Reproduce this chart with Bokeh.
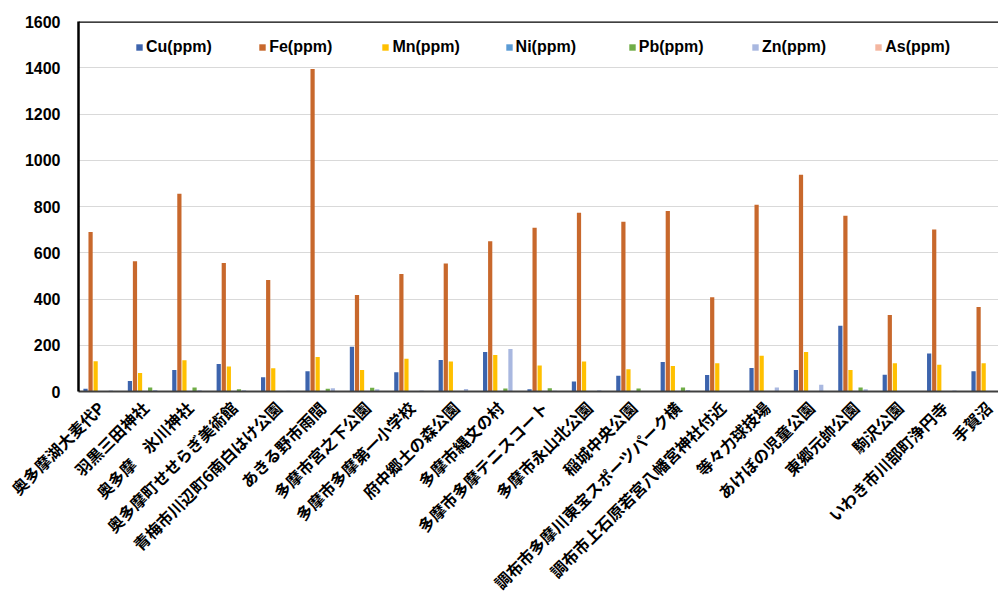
import math
from bokeh.plotting import figure
from bokeh.models import (Range1d, FixedTicker, Legend, LegendItem, Span,
                          ColumnDataSource)
from bokeh.embed import file_html
from bokeh.resources import INLINE

categories = ["奥多摩湖大麦代P", "羽黒三田神社", "奥多摩　氷川神社", "奥多摩町せせらぎ美術館",
              "青梅市川辺町6南白はけ公園", "あきる野市雨間", "多摩市宮之下公園", "多摩市多摩第一小学校",
              "府中郷土の森公園", "多摩市縄文の村", "多摩市多摩テニスコート", "多摩市永山北公園",
              "稲城中央公園", "調布市多摩川東宝スポーツパーク横", "調布市上石原若宮八幡宮神社付近",
              "等々力球技場", "あけぼの児童公園", "東郷元帥公園", "駒沢公園", "いわき市川部町浄円寺", "手賀沼"]

cu = [12, 45, 93, 119, 62, 88, 193, 83, 136, 171, 10, 43, 68, 128, 71, 102, 93, 284, 72, 164, 88]
fe = [690, 563, 855, 556, 482, 1395, 417, 508, 553, 650, 708, 773, 734, 781, 408, 808, 937, 760, 331, 701, 365]
mn = [131, 80, 135, 108, 101, 149, 93, 142, 130, 158, 112, 130, 96, 110, 122, 155, 171, 93, 122, 116, 122]
ni = [1, 1, 1, 1, 1, 1, 1, 1, 1, 1, 1, 1, 1, 1, 1, 1, 1, 1, 1, 1, 1]
pb = [2, 17, 17, 10, 1, 12, 16, 1, 1, 13, 14, 1, 13, 17, 1, 1, 1, 17, 1, 1, 1]
zn = [4, 6, 5, 5, 3, 14, 10, 4, 11, 184, 3, 5, 2, 7, 2, 17, 29, 10, 2, 4, 2]
as_ = [0.5, 0.5, 0.5, 0.5, 0.5, 0.5, 0.5, 0.5, 0.5, 0.5, 0.5, 0.5, 0.5, 0.5, 0.5, 0.5, 0.5, 0.5, 0.5, 0.5, 0.5]

series_names = ["Cu(ppm)", "Fe(ppm)", "Mn(ppm)", "Ni(ppm)", "Pb(ppm)", "Zn(ppm)", "As(ppm)"]
series_values = [cu, fe, mn, ni, pb, zn, as_]
colors = ["#3D64AD", "#C8682C", "#FFC000", "#5B9BD5", "#70AD47", "#A9B8E0", "#F4B6A0"]
y_ticks = [0, 200, 400, 600, 800, 1000, 1200, 1400, 1600]

n = len(categories)
xs = list(range(n))

p = figure(width=998, height=605, output_backend="svg", toolbar_location=None,
           x_range=Range1d(-0.5, 20.22), y_range=Range1d(0, 1600),
           min_border_left=78, min_border_right=0, min_border_top=21, min_border_bottom=211)
p.outline_line_color = None
p.background_fill_color = "white"

slot = 0.114
renderers = []
for i, (name, vals, col) in enumerate(zip(series_names, series_values, colors)):
    src = ColumnDataSource(dict(x=[x + (i - 3) * slot for x in xs], top=vals))
    r = p.vbar(x="x", top="top", width=0.095, source=src, fill_color=col, line_color=None)
    renderers.append(r)

# axes
p.yaxis.ticker = FixedTicker(ticks=y_ticks)
p.yaxis.major_label_text_font = "Liberation Sans"
p.yaxis.major_label_text_font_style = "bold"
p.yaxis.major_label_text_font_size = "16px"
p.yaxis.major_label_text_color = "black"
p.yaxis.major_tick_line_color = None
p.yaxis.minor_tick_line_color = None
p.yaxis.axis_line_color = "black"
p.yaxis.axis_line_width = 2.5
p.yaxis.major_label_standoff = 12

p.xaxis.ticker = FixedTicker(ticks=xs)
p.xaxis.major_label_overrides = {i: c for i, c in enumerate(categories)}
p.xaxis.major_label_orientation = math.pi / 4
p.xaxis.major_label_text_font = "Noto Sans CJK JP"
p.xaxis.major_label_text_font_style = "bold"
p.xaxis.major_label_text_font_size = "16px"
p.xaxis.major_label_text_color = "black"
p.xaxis.major_tick_line_color = None
p.xaxis.minor_tick_line_color = None
p.xaxis.axis_line_color = "#404040"
p.xaxis.axis_line_width = 2
p.xaxis.major_label_standoff = 7

p.xgrid.grid_line_color = None
p.ygrid.grid_line_color = "#D9D9D9"
p.ygrid.grid_line_width = 1

p.add_layout(Span(location=1600, dimension="width", line_color="black", line_width=2.5))

# legend: one entry per legend box, evenly spaced like the original
for i, (name, r) in enumerate(zip(series_names, renderers)):
    leg = Legend(items=[LegendItem(label=name, renderers=[r])],
                 location=(57 + 123.2 * i, 335), orientation="horizontal",
                 padding=0, margin=0, border_line_color=None,
                 background_fill_alpha=0, glyph_width=8, glyph_height=8,
                 label_standoff=3, label_text_font="Liberation Sans",
                 label_text_font_style="bold", label_text_font_size="16px",
                 label_text_color="black", label_height=18)
    p.add_layout(leg, "center")

open("out.html", "w").write(file_html(p, INLINE))
